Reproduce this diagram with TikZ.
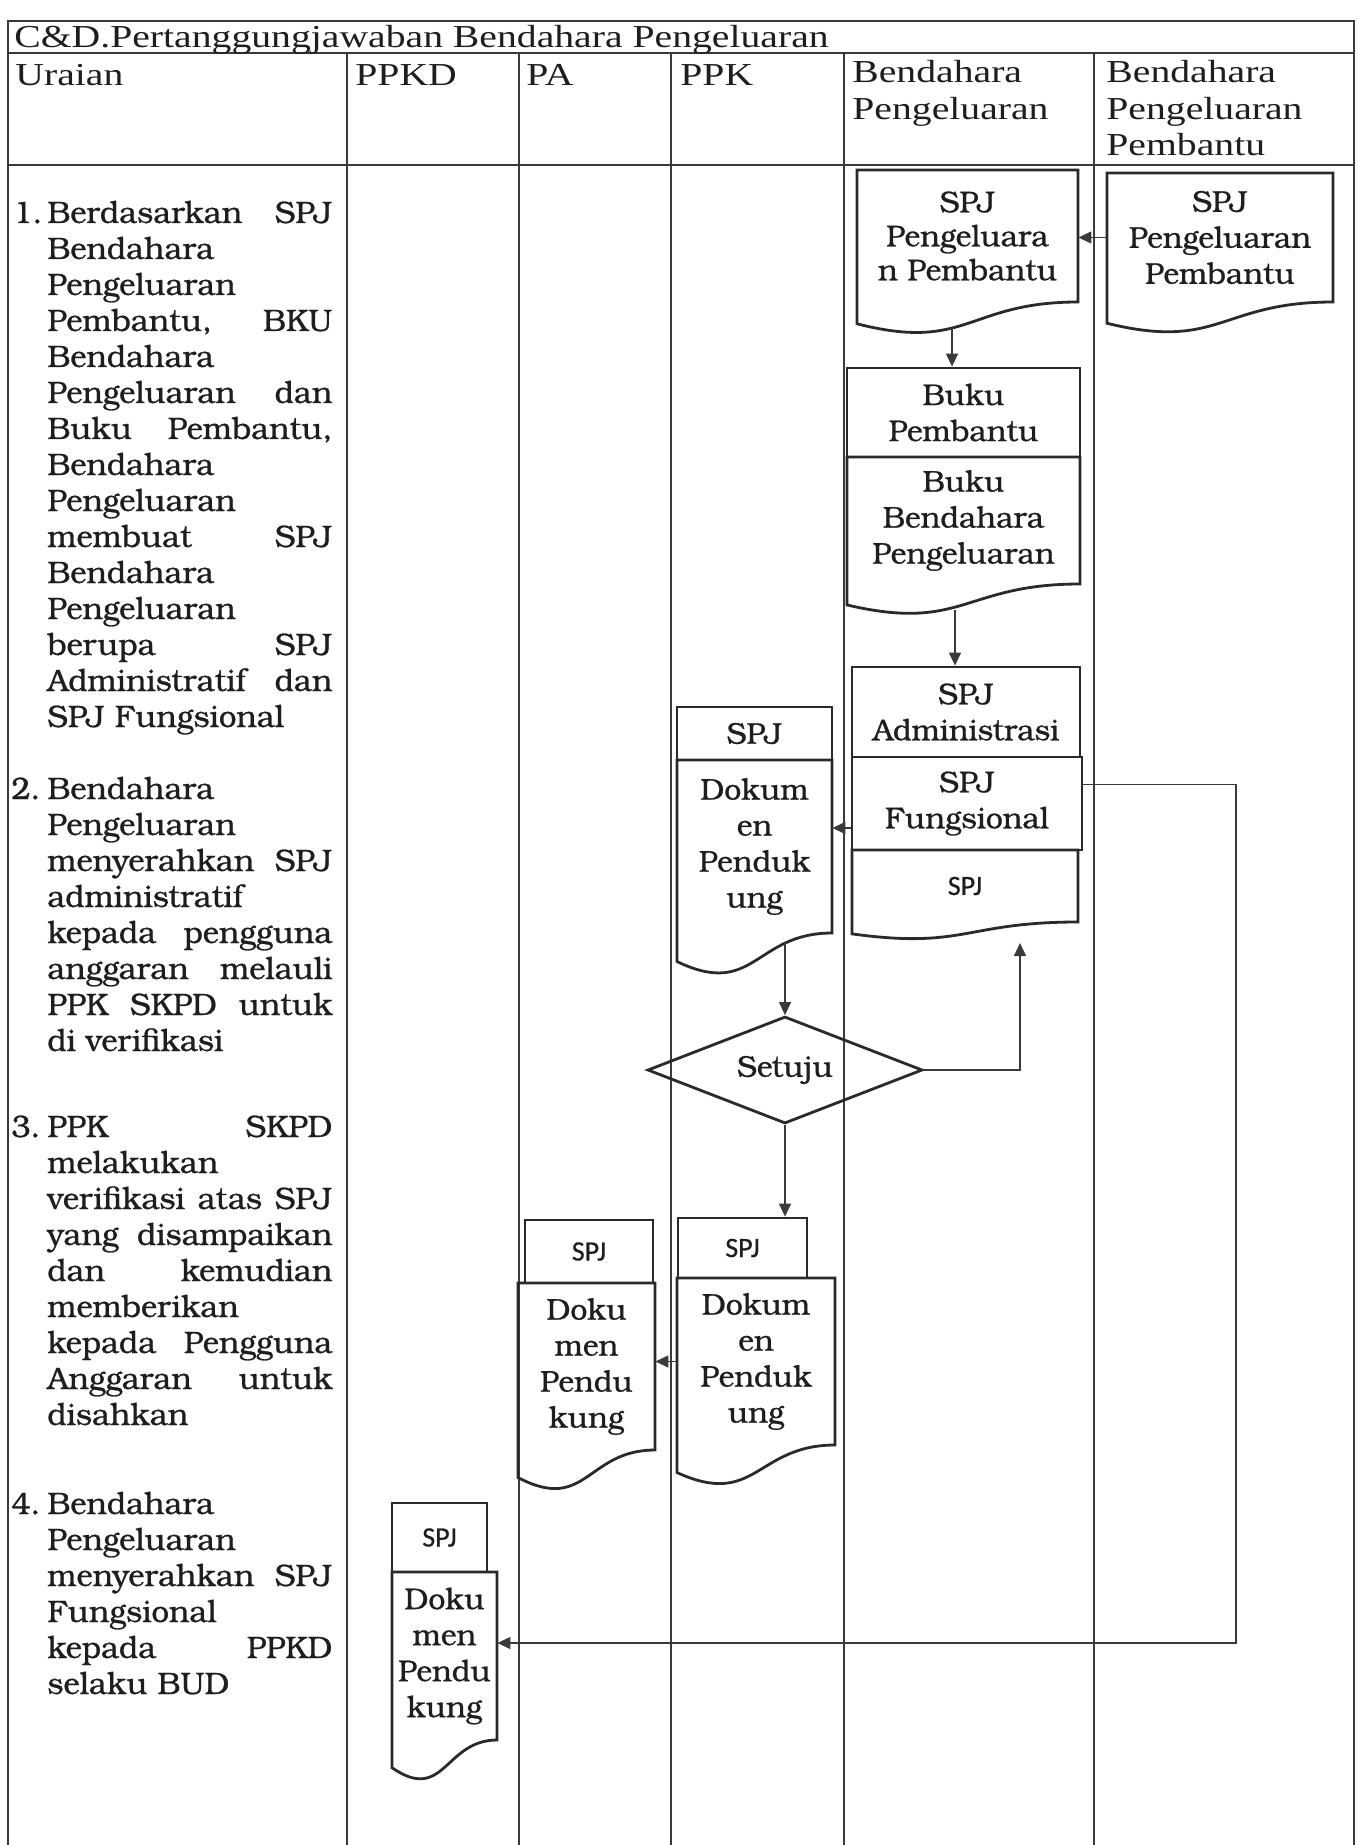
\documentclass[tikz,border=0pt]{standalone}
\usepackage{fontspec}
\setmainfont[FakeBold=0.8]{TeX Gyre Bonum}
\newfontfamily\hdrfont[FakeStretch=1.24]{Liberation Serif}
\newfontfamily\spjfont[FakeBold=0.6]{Carlito}
\usetikzlibrary{arrows.meta,shapes.geometric}

\definecolor{ink}{HTML}{1E1E1E}
\definecolor{rulecol}{HTML}{3A3A3A}
\definecolor{shapecol}{HTML}{2A2A2A}

% width of the wrapped description text
\newlength\uw \setlength\uw{142.5pt}
\newcommand\J[1]{\makebox[\uw][s]{#1}}

\tikzset{
  grid line/.style={draw=rulecol, line width=0.65pt},
  hdr/.style={font={\hdrfont\fontsize{16}{18.25}\selectfont}, text=ink, inner sep=0pt, anchor=base west},
  body/.style={font={\fontsize{15.5}{18}\selectfont}, text=ink, inner sep=0pt},
  boxtext/.style={font={\fontsize{15}{18}\selectfont}, text=ink, align=center, inner sep=0pt},
  sanstext/.style={font={\spjfont\fontsize{14}{16}\selectfont}, text=ink, inner sep=0pt},
  outline/.style={draw=shapecol, line width=1.4pt, line join=miter},
  conn/.style={draw=rulecol, line width=0.65pt},
  arr/.style={conn, -{Triangle[length=6.5pt,width=6pt]}},
}

% rectangle process box: style, name, x1, y1, x2, y2, text
\newcommand\boxnode[7]{%
  \node[#1, outline, minimum width={(#5-#3)*0.5pt}, minimum height={(#6-#4)*0.5pt}]
    (#2) at ({(#3+#5)/2},{(#4+#6)/2}) {#7};}

% document symbol: style, name, x1, y1, x2, y of the right side bottom, text
\newcommand\docnode[7]{%
  \node[#1, minimum width={(#5-#3)*0.5pt}, minimum height={(#6-#4)*0.5pt}]
    (#2) at ({(#3+#5)/2},{(#4+#6)/2}) {#7};
  \draw[outline] (#3,#4) -- (#5,#4) -- (#5,#6)
    .. controls ({(#3+#5)/2},#6) and ({(#3+#5)/2},{#6+0.38*(#6-#4)}) ..
    (#3,{#6+0.165*(#6-#4)}) -- cycle;}

\begin{document}
\begin{tikzpicture}[x=0.5pt,y=-0.5pt]
\useasboundingbox[fill=white] (0,0) rectangle (1358,1845);

% ---- table frame ----
\draw[grid line] (8,1850) -- (8,21) -- (1354,21) -- (1354,1850);
\draw[grid line] (8,53) -- (1354,53);
\draw[grid line] (8,165) -- (1354,165);
\foreach \cx in {347,519,671,844,1094}
  \draw[grid line] (\cx,53) -- (\cx,1850);

% ---- title and column heads ----
\node[hdr] (title) at (14,48) {C\&D.Pertanggungjawaban Bendahara Pengeluaran};
\node[hdr] (hUraian) at (15,86) {Uraian};
\node[hdr] (hPPKD) at (355,86) {PPKD};
\node[hdr] (hPA) at (526,86) {PA};
\node[hdr] (hPPK) at (680,86) {PPK};
\node[hdr] (hBP1) at (852,83) {Bendahara};
\node[hdr] (hBP2) at (852,120) {Pengeluaran};
\node[hdr] (hBPP1) at (1106,83) {Bendahara};
\node[hdr] (hBPP2) at (1106,120) {Pengeluaran};
\node[hdr] (hBPP3) at (1106,156) {Pembantu};

% ---- step descriptions ----
\node[body, anchor=base west] (n1) at (13,223) {1.};
\foreach \t [count=\k] in {{\J{Berdasarkan SPJ}}, Bendahara, Pengeluaran,
    {\J{Pembantu, BKU}}, Bendahara, {\J{Pengeluaran dan}}, {\J{Buku Pembantu,}},
    Bendahara, Pengeluaran, {\J{membuat SPJ}}, Bendahara, Pengeluaran,
    {\J{berupa SPJ}}, {\J{Administratif dan}}, SPJ Fungsional}
  \node[body, anchor=base west] (u1-\k) at (47,{223+36*(\k-1)}) {\t};

\node[body, anchor=base west] (n2) at (11,799) {2.};
\foreach \t [count=\k] in {Bendahara, Pengeluaran, {\J{menyerahkan SPJ}},
    administratif, {\J{kepada pengguna}}, {\J{anggaran melauli}},
    {\J{PPK SKPD untuk}}, di verifikasi}
  \node[body, anchor=base west] (u2-\k) at (47,{799+36*(\k-1)}) {\t};

\node[body, anchor=base west] (n3) at (11,1137) {3.};
\foreach \t [count=\k] in {{\J{PPK SKPD}}, melakukan, {\J{verifikasi atas SPJ}},
    {\J{yang disampaikan}}, {\J{dan kemudian}}, memberikan,
    {\J{kepada Pengguna}}, {\J{Anggaran untuk}}, disahkan}
  \node[body, anchor=base west] (u3-\k) at (47,{1137+36*(\k-1)}) {\t};

\node[body, anchor=base west] (n4) at (11,1514) {4.};
\foreach \t [count=\k] in {Bendahara, Pengeluaran, {\J{menyerahkan SPJ}},
    Fungsional, {\J{kepada PPKD}}, selaku BUD}
  \node[body, anchor=base west] (u4-\k) at (47,{1514+36*(\k-1)}) {\t};

% ---- Bendahara Pengeluaran Pembantu ----
\docnode{boxtext}{spjpb}{1107}{173}{1333}{302}{SPJ\\Pengeluaran\\Pembantu}

% ---- Bendahara Pengeluaran ----
\docnode{boxtext, font={\fontsize{15}{17}\selectfont}}{spjp}{857}{170}{1078}{302}{SPJ\\Pengeluara\\n Pembantu}
\boxnode{boxtext}{bukup}{847}{368}{1080}{457}{Buku\\Pembantu}
\docnode{boxtext}{bukub}{847}{457}{1080}{584}{Buku\\Bendahara\\Pengeluaran}
\boxnode{boxtext}{spjadm}{852}{667}{1080}{757}{SPJ\\Administrasi}
\boxnode{boxtext}{spjf}{852}{757}{1082}{850}{SPJ\\Fungsional}
\docnode{sanstext}{spjdoc}{852}{850}{1078}{922}{SPJ}

% ---- PPK ----
\boxnode{boxtext}{ppkspj1}{677}{707}{832}{760}{SPJ}
\docnode{boxtext}{ppkdok1}{677}{760}{832}{933}{Dokum\\en\\Penduk\\ung}
\node[diamond, aspect=2.57, outline, boxtext, minimum width=137.5pt, minimum height=53.5pt] (setuju) at (785,1070) {Setuju};
\boxnode{sanstext}{ppkspj2}{678}{1218}{807}{1278}{SPJ}
\docnode{boxtext}{ppkdok2}{677}{1278}{835}{1445}{Dokum\\en\\Penduk\\ung}

% ---- PA ----
\boxnode{sanstext}{paspj}{525}{1220}{653}{1283}{SPJ}
\docnode{boxtext}{padok}{518}{1283}{655}{1450}{Doku\\men\\Pendu\\kung}

% ---- PPKD ----
\boxnode{sanstext}{ppkdspj}{392}{1503}{487}{1572}{SPJ}
\docnode{boxtext}{ppkddok}{392}{1572}{497}{1740}{Doku\\men\\Pendu\\kung}

% ---- connectors ----
\coordinate (cA) at (952,328);
\coordinate (cB) at (955,610);
\coordinate (cC) at (785,943);
\coordinate (upx) at (1020,943);
\coordinate (loopx) at (1236,0);
\coordinate (f1) at ([yshift=9.5pt]spjf.east);
\coordinate (f2) at ([yshift=-12.25pt]spjf.west);
\coordinate (p1) at ([yshift=6.5pt]ppkddok.east);

\draw[arr] (spjpb.west) -- (spjpb.west -| spjp.east);
\draw[arr] (cA) -- (cA |- bukup.north);
\draw[arr] (cB) -- (cB |- spjadm.north);
\draw[arr] (f2) -- (f2 -| ppkdok1.east);
\draw[arr] (cC) -- (setuju.north);
\draw[arr] (setuju.east) -| (upx);
\draw[arr] (setuju.south) -- (setuju.south |- ppkspj2.north);
\draw[arr] (ppkdok2.west) -- (ppkdok2.west -| padok.east);
\draw[arr] (f1) -- (f1 -| loopx) -- (p1 -| loopx) -- (p1);
\end{tikzpicture}
\end{document}
